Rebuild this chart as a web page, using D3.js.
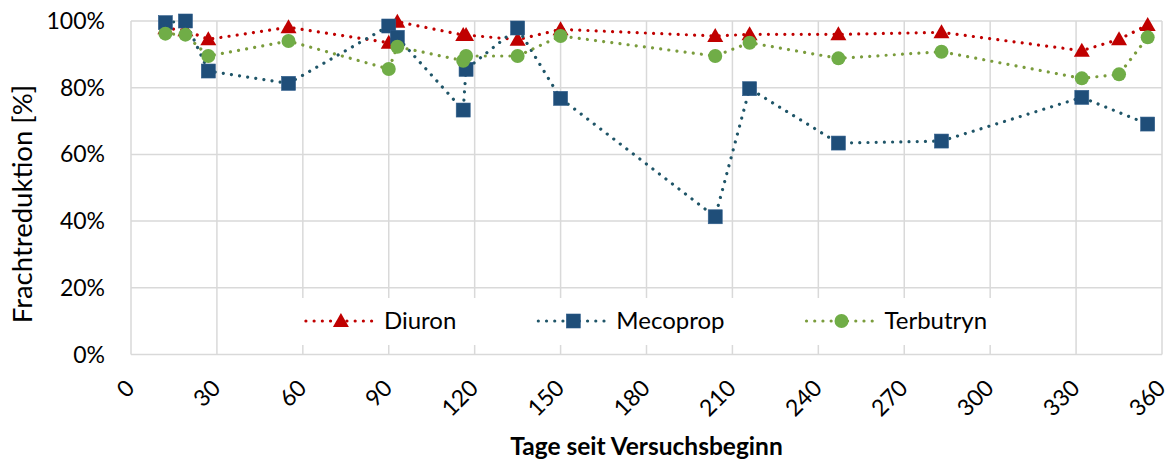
<!DOCTYPE html>
<html>
<head>
<meta charset="utf-8">
<script src="https://cdn.jsdelivr.net/npm/d3@7"></script>
<style>
  body { margin: 0; background: #fff; }
  svg { display: block; font-family: Lato, "Open Sans", sans-serif; }
</style>
</head>
<body>
<div id="chart"></div>
<script>
// chart size
const width = 1171
const height = 461

// data
const days = [12, 19, 27, 55, 90, 93, 116, 117, 135, 150, 204, 216, 247, 283, 332, 345, 355]
const diuron = [97.8, 97.2, 94.5, 98.1, 93.5, 99.8, 95.8, 95.8, 94.4, 97.5, 95.5, 96.0, 96.0, 96.6, 91.1, 94.5, 98.8]
const mecoprop = [99.5, 100, 85.0, 81.3, 98.5, 95.1, 73.3, 85.5, 97.9, 76.8, 41.3, 79.7, 63.4, 64.0, 77.1, null, 69.1]
const terbutryn = [96.2, 95.9, 89.5, 94.0, 85.6, 92.3, 88.1, 89.5, 89.5, 95.5, 89.5, 93.5, 88.8, 90.8, 82.8, 84.0, 95.1]

const seriesNames = ["Diuron", "Mecoprop", "Terbutryn"]
const xTicks = d3.range(0, 361, 30)
const yTicks = [0, 20, 40, 60, 80, 100]

const series = [
  {name: seriesNames[0], values: diuron, line: "#C00000", fill: "#C00000", symbol: "triangle"},
  {name: seriesNames[1], values: mecoprop, line: "#1F5568", fill: "#1F4E79", symbol: "square"},
  {name: seriesNames[2], values: terbutryn, line: "#7A9C3C", fill: "#70AD47", symbol: "circle"}
]

const margin = {left: 131, right: 9, top: 21, bottom: 106.5}

const x = d3.scaleLinear().domain([0, 360]).range([margin.left, width - margin.right])
const y = d3.scaleLinear().domain([0, 100]).range([height - margin.bottom, margin.top])

const svg = d3.select("#chart").append("svg")
  .attr("width", width)
  .attr("height", height)

// gridlines
svg.append("g")
  .selectAll("line")
  .data(yTicks)
  .enter().append("line")
  .attr("x1", x(0)).attr("x2", x(360))
  .attr("y1", d => y(d)).attr("y2", d => y(d))
  .attr("stroke", "#D9D9D9").attr("stroke-width", 1.5)

svg.append("g")
  .selectAll("line")
  .data(xTicks)
  .enter().append("line")
  .attr("x1", d => x(d)).attr("x2", d => x(d))
  .attr("y1", y(0)).attr("y2", y(100))
  .attr("stroke", "#D9D9D9").attr("stroke-width", 1.5)

// y tick labels
svg.append("g")
  .selectAll("text")
  .data(yTicks)
  .enter().append("text")
  .attr("x", 105)
  .attr("y", d => y(d))
  .attr("dy", "0.35em")
  .attr("text-anchor", "end")
  .attr("font-size", 23)
  .attr("fill", "#000")
  .text(d => d + "%")

// x tick labels, rotated
svg.append("g")
  .selectAll("text")
  .data(xTicks)
  .enter().append("text")
  .attr("transform", d => `translate(${x(d) + 5},${y(0) + 35}) rotate(-45)`)
  .attr("text-anchor", "end")
  .attr("font-size", 23)
  .attr("fill", "#000")
  .text(d => d)

// axis titles
svg.append("text")
  .attr("transform", `translate(32,204) rotate(-90)`)
  .attr("text-anchor", "middle")
  .attr("font-size", 27.5)
  .text("Frachtreduktion [%]")

svg.append("text")
  .attr("x", (x(0) + x(360)) / 2)
  .attr("y", 455)
  .attr("text-anchor", "middle")
  .attr("font-size", 24.5)
  .attr("font-weight", "bold")
  .text("Tage seit Versuchsbeginn")

// marker drawing
function marker(sel, s) {
  if (s.symbol === "triangle") {
    sel.append("path").attr("d", "M0,-8L8,6L-8,6Z").attr("fill", s.fill)
  } else if (s.symbol === "square") {
    sel.append("rect").attr("x", -7).attr("y", -7).attr("width", 14).attr("height", 14)
      .attr("fill", s.fill).attr("stroke", "#2E5C8A").attr("stroke-width", 0.6)
  } else {
    sel.append("circle").attr("r", 7).attr("fill", s.fill)
  }
}

// legend group, raised to the front at the end
const legendG = svg.append("g")

// series lines + markers
const lineGen = d3.line()
  .x(d => x(d[0]))
  .y(d => y(d[1]))

series.forEach(s => {
  const pts = days.map((d, i) => [d, s.values[i]]).filter(p => p[1] != null)
  const g = svg.append("g")
  g.append("path")
    .datum(pts)
    .attr("d", lineGen)
    .attr("fill", "none")
    .attr("stroke", s.line)
    .attr("stroke-width", 3.2)
    .attr("stroke-linecap", "round")
    .attr("stroke-dasharray", "0.01 8.2")
  g.selectAll("g.m")
    .data(pts)
    .enter().append("g")
    .attr("class", "m")
    .attr("transform", p => `translate(${x(p[0])},${y(p[1])})`)
    .each(function() { marker(d3.select(this), s) })
})

// legend items
const legY = 321
const lineLen = 70
const textGap = 8
const itemGap = 82
const box = legendG.append("rect").attr("fill", "#fff")
const items = series.map(s => {
  const g = legendG.append("g")
  g.append("line")
    .attr("x1", 0).attr("x2", lineLen)
    .attr("y1", 0).attr("y2", 0)
    .attr("stroke", s.line)
    .attr("stroke-width", 3.2)
    .attr("stroke-linecap", "round")
    .attr("stroke-dasharray", "0.01 8.2")
  const mg = g.append("g").attr("transform", `translate(${lineLen / 2},0)`)
  marker(mg, s)
  const t = g.append("text")
    .attr("x", lineLen + textGap)
    .attr("dy", "0.35em")
    .attr("font-size", 24)
    .text(s.name)
  return {g: g, w: lineLen + textGap + t.node().getComputedTextLength()}
})
const totalW = d3.sum(items, d => d.w) + itemGap * (items.length - 1)
let cx = (x(0) + x(360)) / 2 - totalW / 2
box.attr("x", cx - 12).attr("y", legY - 23).attr("width", totalW + 24).attr("height", 47)
items.forEach(it => {
  it.g.attr("transform", `translate(${cx},${legY})`)
  cx += it.w + itemGap
})

legendG.raise()
</script>
</body>
</html>
